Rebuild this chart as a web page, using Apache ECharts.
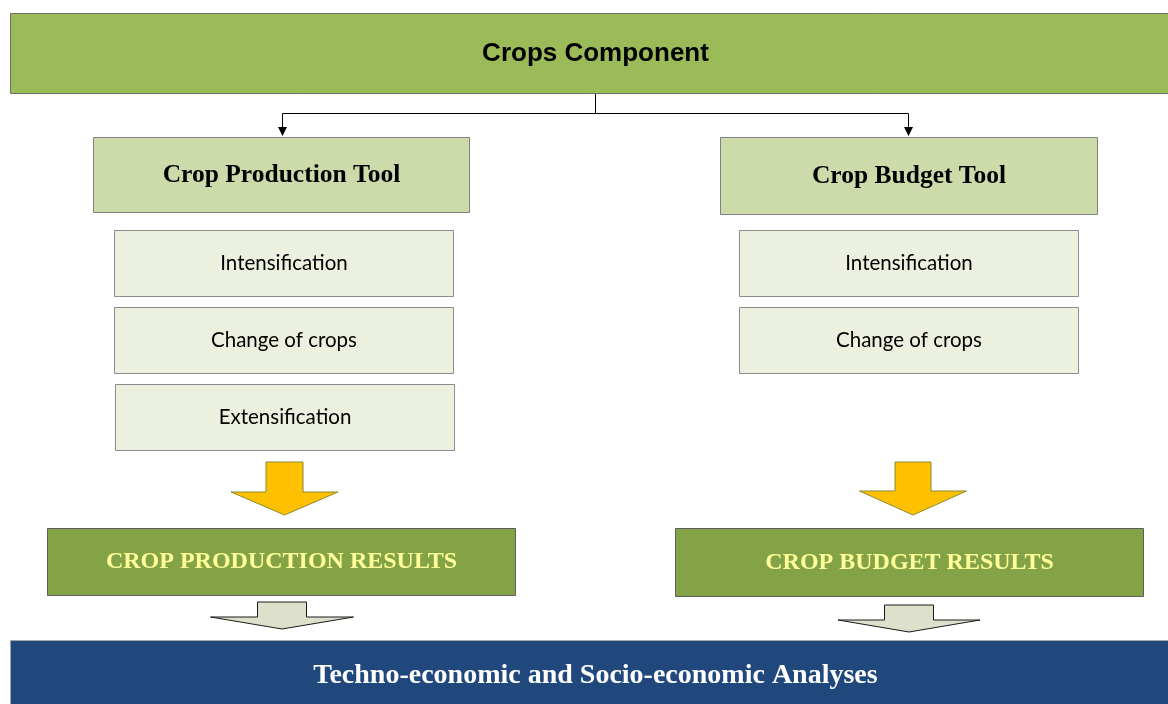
<!DOCTYPE html>
<html>
<head>
<meta charset="utf-8">
<title>Crops Component</title>
<script src="https://cdn.jsdelivr.net/npm/echarts@6/dist/echarts.min.js"></script>
<style>
  html, body { margin: 0; padding: 0; background: #fff; }
  #chart { width: 1168px; height: 704px; }
</style>
</head>
<body>
<div id="chart"></div>
<script>
// texts of the diagram
const topLabel = 'Crops Component'
const toolLabels = ['Crop Production Tool', 'Crop Budget Tool']
const leftOptions = ['Intensification', 'Change of crops', 'Extensification']
const rightOptions = ['Intensification', 'Change of crops']
const resultLabels = ['CROP PRODUCTION RESULTS', 'CROP BUDGET RESULTS']
const bottomLabel = 'Techno-economic and Socio-economic Analyses'

// layout (in the 1168 x 704 axis space)
const topBox = [10, 13, 1180, 93]
const toolBoxes = [[93, 137, 469, 212], [720, 137, 1097, 214]]
const leftBoxes = [[114, 230, 453, 296], [114, 307, 453, 373], [115, 384, 454, 450]]
const rightBoxes = [[739, 230, 1078, 296], [739, 307, 1078, 373]]
const resultBoxes = [[47, 528, 515, 595], [675, 528, 1143, 596]]
const bottomBox = [10, 640, 1180, 711]
// arrows: [centerX, shaftTop, headY, tipY, shaftHalf, headHalf]
const yellowArrows = [[284.5, 462, 492, 515, 18.5, 53.5], [913, 462, 491, 515, 18, 53.5]]
const greyArrows = [[282, 602, 617, 629, 24.5, 71.5], [909, 605, 620, 632, 24.5, 71]]

const styles = {
  top: { fill: '#9BBB59', stroke: '#6E6E6E', font: 'bold 26px "Liberation Sans", Arial', color: '#000' },
  tool: { fill: '#CDDBAB', stroke: '#808080', font: 'bold 25.5px "Liberation Serif", serif', color: '#000' },
  option: { fill: '#EBF0DF', stroke: '#8C8C8C', font: '20.5px Lato, "Open Sans", sans-serif', color: '#000' },
  result: { fill: '#83A346', stroke: '#5E5E5E', font: 'bold 24px "Liberation Serif", serif', color: '#FFFF99' },
  bottom: { fill: '#21487C', stroke: '#A6A6A6', font: 'bold 28px "Liberation Serif", serif', color: '#fff' }
}

let boxes = []
boxes.push({ value: topBox, name: topLabel, kind: 'top' })
toolLabels.forEach((t, i) => boxes.push({ value: toolBoxes[i], name: t, kind: 'tool' }))
leftOptions.forEach((t, i) => boxes.push({ value: leftBoxes[i], name: t, kind: 'option' }))
rightOptions.forEach((t, i) => boxes.push({ value: rightBoxes[i], name: t, kind: 'option' }))
resultLabels.forEach((t, i) => boxes.push({ value: resultBoxes[i], name: t, kind: 'result' }))
boxes.push({ value: bottomBox, name: bottomLabel, kind: 'bottom' })

let arrows = []
yellowArrows.forEach(a => arrows.push({ value: a, fill: '#FFC000', stroke: '#8A8A2E' }))
greyArrows.forEach(a => arrows.push({ value: a, fill: '#DDE1CB', stroke: '#1A1A1A' }))

function renderBox (params, api) {
  let item = boxes[params.dataIndex]
  let st = styles[item.kind]
  let p0 = api.coord([api.value(0), api.value(1)])
  let p1 = api.coord([api.value(2), api.value(3)])
  return {
    type: 'rect',
    shape: { x: p0[0] + 0.5, y: p0[1] + 0.5, width: p1[0] - p0[0], height: p1[1] - p0[1] },
    style: { fill: st.fill, stroke: st.stroke, lineWidth: 1 },
    textContent: {
      style: { text: item.name, font: st.font, fill: st.color, align: 'center', verticalAlign: 'middle' }
    },
    textConfig: { position: 'inside' }
  }
}

function renderArrow (params, api) {
  let a = arrows[params.dataIndex]
  let cx = api.value(0), top = api.value(1), hy = api.value(2), tip = api.value(3)
  let sh = api.value(4), hh = api.value(5)
  let pts = [
    [cx - sh, top], [cx + sh, top], [cx + sh, hy], [cx + hh, hy],
    [cx, tip], [cx - hh, hy], [cx - sh, hy]
  ].map(p => api.coord(p))
  return {
    type: 'polygon',
    shape: { points: pts },
    style: { fill: a.fill, stroke: a.stroke, lineWidth: 1 }
  }
}

// elbow connector from the top box to the two tools
const connector = [[595, 93], [595, 113], [282, 113], [908, 113]]
function renderConnector (params, api) {
  let c = connector.map(p => api.coord(p))
  let drop = (x) => {
    let t = api.coord([x, 136])
    let s = api.coord([x, 113])
    return [
      { type: 'line', shape: { x1: s[0] + 0.5, y1: s[1] + 0.5, x2: t[0] + 0.5, y2: t[1] - 8 }, style: { stroke: '#000', lineWidth: 1 } },
      { type: 'polygon', shape: { points: [[t[0] - 4, t[1] - 9], [t[0] + 5, t[1] - 9], [t[0] + 0.5, t[1]]] }, style: { fill: '#000' } }
    ]
  }
  return {
    type: 'group',
    children: [
      { type: 'line', shape: { x1: c[0][0] + 0.5, y1: c[0][1], x2: c[1][0] + 0.5, y2: c[1][1] + 0.5 }, style: { stroke: '#000', lineWidth: 1 } },
      { type: 'line', shape: { x1: c[2][0] + 0.5, y1: c[2][1] + 0.5, x2: c[3][0] + 0.5, y2: c[3][1] + 0.5 }, style: { stroke: '#000', lineWidth: 1 } }
    ].concat(drop(282), drop(908))
  }
}

let chart = echarts.init(document.getElementById('chart'))
let option = {
  animation: false,
  grid: { left: 0, right: 0, top: 0, bottom: 0 },
  xAxis: { type: 'value', min: 0, max: 1168, show: false },
  yAxis: { type: 'value', min: 0, max: 704, inverse: true, show: false },
  series: [
    {
      type: 'custom',
      name: 'connector',
      renderItem: renderConnector,
      data: [[0]],
      clip: true
    },
    {
      type: 'custom',
      name: 'boxes',
      renderItem: renderBox,
      data: boxes.map(b => b.value),
      clip: true
    },
    {
      type: 'custom',
      name: 'arrows',
      renderItem: renderArrow,
      data: arrows.map(a => a.value),
      clip: true
    }
  ]
}
chart.setOption(option)
window.addEventListener('resize', () => chart.resize())
</script>
</body>
</html>
